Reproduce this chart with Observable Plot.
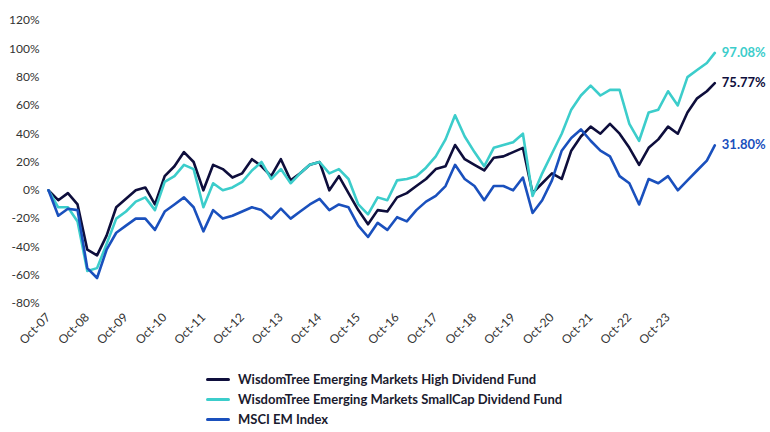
<!DOCTYPE html>
<html><head><meta charset="utf-8">
<script src="https://cdn.jsdelivr.net/npm/d3@7"></script>
<script src="https://cdn.jsdelivr.net/npm/@observablehq/plot@0.6"></script>
<style>
body{margin:0;background:#fff;font-family:Lato,"Open Sans",sans-serif;}
#legend{padding-left:206px;margin-top:14px;}
.item{display:flex;align-items:center;height:20px;font-weight:bold;font-size:13px;color:#1a1a2e;}
.sw{width:24px;height:3px;margin-right:8px;border-radius:2px;}
</style></head><body>
<div id="chart"></div>
<div id="legend"></div>
<script>
const seriesNames = ["WisdomTree Emerging Markets High Dividend Fund","WisdomTree Emerging Markets SmallCap Dividend Fund","MSCI EM Index"];
const colors = ["#0e0e3c","#3ccdcb","#1a50bd"];
const endLabels = ["75.77%","97.08%","31.80%"];
const highDiv = [0,-7,-2,-10,-42,-46,-32,-12,-6,0,2,-10,10,17,27,20,0,18,15,9,12,22,17,10,22,7,12,18,20,0,10,-2,-14,-24,-14,-15,-5,-2,3,8,15,17,32,22,18,14,23,24,27,30,-2,5,12,8,28,38,45,40,47,40,30,18,30,36,45,40,55,65,70,75.77];
const smallCap = [0,-12,-12,-22,-57,-55,-38,-20,-15,-8,-5,-14,6,10,18,15,-12,5,0,2,6,14,20,8,15,5,12,18,20,12,15,8,-10,-17,-5,-7,7,8,10,16,24,36,53,38,27,17,30,32,34,40,-4,12,26,40,57,67,74,67,71,71,47,35,55,57,70,60,80,85,90,97.08];
const msci = [0,-18,-13,-14,-55,-62,-42,-30,-25,-20,-20,-28,-15,-10,-5,-12,-29,-14,-20,-18,-15,-12,-14,-20,-13,-20,-15,-10,-6,-14,-10,-12,-25,-33,-23,-28,-19,-22,-14,-8,-4,3,18,8,3,-7,3,3,0,9,-16,-7,7,28,37,43,35,28,24,10,5,-10,8,5,10,0,7,14,21,31.8];
const dates = highDiv.map((_, i) => i < highDiv.length - 1 ? new Date(2007, 9 + 3 * i, 1) : new Date(2024, 11, 15));
const yTicks = [-80,-60,-40,-20,0,20,40,60,80,100,120];
const xTicks = d3.range(2007, 2024).map(y => new Date(y, 9, 1));

const allSeries = [highDiv, smallCap, msci];
const data = allSeries.flatMap((vals, s) => vals.map((v, i) => ({date: dates[i], value: v, series: seriesNames[s]})));
const ends = allSeries.map((vals, s) => ({date: dates[vals.length - 1], value: vals[vals.length - 1], series: seriesNames[s], label: endLabels[s]}));

const chart = Plot.plot({
  width: 770, height: 355,
  marginLeft: 48, marginRight: 54, marginTop: 20, marginBottom: 52,
  style: {fontFamily: "Lato, sans-serif", fontSize: "12px", color: "#333", overflow: "visible"},
  x: {type: "time", domain: [new Date(2007, 9, 1), new Date(2024, 11, 31)], ticks: xTicks, tickFormat: d3.timeFormat("%b-%y"), tickRotate: -45, tickSize: 0, label: null},
  y: {domain: [-80, 120], ticks: yTicks, tickFormat: d => d + "%", tickSize: 0, label: null},
  color: {domain: seriesNames, range: colors},
  marks: [
    Plot.line(data, {x: "date", y: "value", z: "series", stroke: "series", strokeWidth: 2.6, curve: "linear"}),
    Plot.text(ends, {x: "date", y: "value", text: "label", fill: "series", dx: 7, textAnchor: "start", fontWeight: "bold", fontSize: 13})
  ]
});
document.getElementById("chart").appendChild(chart);
const lg = document.getElementById("legend");
seriesNames.forEach((n, i) => {
  const d = document.createElement("div"); d.className = "item";
  d.innerHTML = `<span class="sw" style="background:${colors[i]}"></span>${n}`;
  lg.appendChild(d);
});
</script></body></html>
